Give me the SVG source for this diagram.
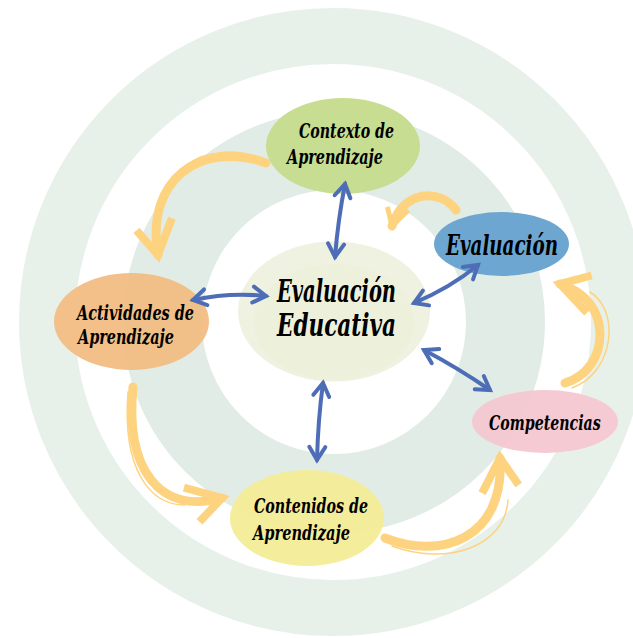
<svg xmlns="http://www.w3.org/2000/svg" width="633" height="638" viewBox="0 0 633 638">
<style>
.lbl{font-family:"DejaVu Serif Condensed","DejaVu Serif","Liberation Serif",serif;font-style:italic;font-weight:bold;fill:#000;}
.blue{fill:none;stroke:#4E6DB7;stroke-width:4;stroke-linecap:round;}
.orange{fill:none;stroke:#FDD380;stroke-width:9;stroke-linecap:round;}
.brush{fill:none;stroke:#FDD380;stroke-width:1.5;stroke-linecap:round;}
</style>
<defs>
<marker id="bh" markerUnits="userSpaceOnUse" viewBox="-18 -12 22 24" refX="0" refY="0" markerWidth="22" markerHeight="24" orient="auto-start-reverse" overflow="visible">
<path d="M-13,-8 L0,0 L-13,8" fill="none" stroke="#4E6DB7" stroke-width="4" stroke-linecap="round" stroke-linejoin="miter"/>
</marker>
<marker id="oh" markerUnits="userSpaceOnUse" viewBox="-40 -25 50 50" refX="0" refY="0" markerWidth="50" markerHeight="50" orient="auto" overflow="visible">
<path d="M-34,-20 L0,0 L-28,17" fill="none" stroke="#FDD380" stroke-width="8" stroke-linejoin="miter"/>
</marker>
<marker id="ohs" markerUnits="userSpaceOnUse" viewBox="-25 -15 30 30" refX="0" refY="0" markerWidth="30" markerHeight="30" orient="auto" overflow="visible">
<path d="M-20,-11 L0,0 L-17,10" fill="none" stroke="#FDD380" stroke-width="5" stroke-linejoin="miter"/>
</marker>
</defs>
<rect width="633" height="638" fill="#FFFFFF"/>
<g id="background">
<circle cx="333" cy="322" r="286" fill="none" stroke="#E7F1E9" stroke-width="56"/>
<circle cx="334" cy="322" r="171.5" fill="none" stroke="#E2ECE6" stroke-width="79"/>
</g>
<g id="node-center">
<ellipse cx="334" cy="311.5" rx="96" ry="70" fill="#EEF1DE" opacity="0.95"/>
<ellipse cx="334" cy="322" rx="80" ry="58" fill="#EBEFD8" opacity="0.5"/>
<text class="lbl" x="277" y="302" font-size="31" textLength="119" lengthAdjust="spacingAndGlyphs">Evaluación</text>
<text class="lbl" x="277" y="336" font-size="31" textLength="119" lengthAdjust="spacingAndGlyphs">Educativa</text>
</g>
<g id="node-contexto">
<ellipse cx="343" cy="146" rx="77" ry="48" fill="#C6DC8E" opacity="0.97"/>
<text class="lbl" x="299" y="138" font-size="20" textLength="95" lengthAdjust="spacingAndGlyphs">Contexto de</text>
<text class="lbl" x="287" y="164" font-size="20" textLength="96" lengthAdjust="spacingAndGlyphs">Aprendizaje</text>
</g>
<g id="node-evaluacion">
<ellipse cx="501.5" cy="244" rx="67.5" ry="32" fill="#68A3D0" opacity="0.97"/>
<text class="lbl" x="446" y="255" font-size="28" textLength="112" lengthAdjust="spacingAndGlyphs">Evaluación</text>
</g>
<g id="node-actividades">
<ellipse cx="131.5" cy="321.5" rx="77.5" ry="48.5" fill="#F2BE84" opacity="0.97"/>
<text class="lbl" x="77" y="320" font-size="21" textLength="117" lengthAdjust="spacingAndGlyphs">Actividades de</text>
<text class="lbl" x="78" y="344" font-size="21" textLength="96" lengthAdjust="spacingAndGlyphs">Aprendizaje</text>
</g>
<g id="node-competencias">
<ellipse cx="545" cy="421.5" rx="73" ry="31.5" fill="#F5C8D1" opacity="0.97"/>
<text class="lbl" transform="translate(489 430) scale(0.76 1)" x="0" y="0" font-size="21" textLength="147" lengthAdjust="spacingAndGlyphs">Competencias</text>
</g>
<g id="node-contenidos">
<ellipse cx="307" cy="518" rx="77" ry="48" fill="#F4EC98" opacity="0.97"/>
<text class="lbl" x="254" y="513" font-size="20" textLength="114" lengthAdjust="spacingAndGlyphs">Contenidos de</text>
<text class="lbl" x="253" y="540" font-size="20" textLength="97" lengthAdjust="spacingAndGlyphs">Aprendizaje</text>
</g>
<g id="connectors">
<path class="orange" d="M266,163 C200,140 145,180 158,255" marker-end="url(#oh)"/>
<path class="brush" d="M262,158 C205,138 155,170 157,230"/>
<path class="orange" d="M456,210 C440,188 403,190 392,226" stroke-width="6" marker-end="url(#ohs)"/>
<path class="orange" d="M565,383 C610,370 615,300 560,284" marker-end="url(#oh)"/>
<path class="brush" d="M572,388 C615,372 620,310 590,292"/>
<path class="orange" d="M133,387 C125,470 160,515 222,498" marker-end="url(#oh)"/>
<path class="brush" d="M128,392 C122,470 150,505 185,505"/>
<path class="orange" d="M385,538 C440,560 505,540 500,458" marker-end="url(#oh)"/>
<path class="brush" d="M392,546 C445,566 505,548 508,500"/>
<path class="blue" d="M345,184 Q338,220 335,257" marker-start="url(#bh)" marker-end="url(#bh)"/>
<path class="blue" d="M193,300 Q230,292 266,296" marker-start="url(#bh)" marker-end="url(#bh)"/>
<path class="blue" d="M478,265 Q450,288 414,303" marker-start="url(#bh)" marker-end="url(#bh)"/>
<path class="blue" d="M424,350 Q458,368 490,390" marker-start="url(#bh)" marker-end="url(#bh)"/>
<path class="blue" d="M323,383 Q318,420 317,460" marker-start="url(#bh)" marker-end="url(#bh)"/>
</g>
</svg>
